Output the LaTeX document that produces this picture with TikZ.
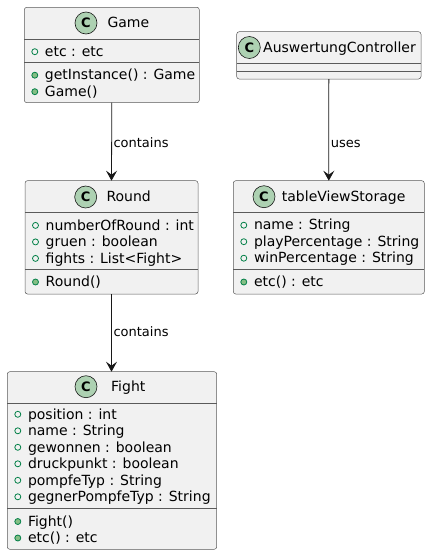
\documentclass[tikz,border=0pt]{standalone}
\usepackage{fontspec}
\setmainfont{DejaVu Sans}
\usetikzlibrary{arrows.meta}
\definecolor{boxfill}{HTML}{F1F1F1}
\definecolor{boxline}{HTML}{181818}
\definecolor{sepcol}{HTML}{5A5A5A}
\definecolor{circfill}{HTML}{ADD1B2}
\definecolor{visline}{HTML}{038048}
\definecolor{visfill}{HTML}{84BE84}
\tikzset{
 umlbox/.style={draw=sepcol, fill=boxfill, line width=0.5pt, rounded corners=2.5pt, inner sep=0pt, outer sep=0pt, anchor=north west},
 sepline/.style={draw=sepcol, line width=0.5pt},
 txt/.style={anchor=base west, inner sep=0pt, font=\fontsize{14}{16}\selectfont, text=black},
 lbl/.style={anchor=base west, inner sep=0pt, font=\fontsize{13}{15}\selectfont, text=black},
 cicon/.style={circle, draw=boxline, fill=circfill, line width=0.6pt, minimum size=22pt, inner sep=0pt, font=\bfseries\fontsize{13}{13}\selectfont},
 attricon/.style={circle, draw=visline, line width=0.8pt, minimum size=6pt, inner sep=0pt},
 methicon/.style={attricon, fill=visfill},
 arr/.style={draw=boxline, line width=0.8pt, -{Stealth[length=10pt,width=11pt,inset=4pt]}},
}
\newcommand\umlrow[5]{%
 \node[#1] (#2i) at (#3+10.5,#4) {};
 \node[txt] (#2t) at (#3+20.5,#4+4.7) {#5};}
\newcommand\umltitle[5]{%
 \node[cicon] (#1c) at (#2,#4) {C};
 \node[txt] (#1t) at (#3,#4+4.7) {#5};}
\begin{document}
\begin{tikzpicture}[x=1pt,y=-1pt]
\useasboundingbox (0,0) rectangle (430,555);
% Game
\node[umlbox, minimum width=175pt, minimum height=95.4pt] (game) at (24.3,7.3) {};
\draw[sepline] (game.west |- 0,39.3) -- (game.east |- 0,39.3);
\draw[sepline] (game.west |- 0,62.7) -- (game.east |- 0,62.7);
\umltitle{gam}{86}{107.3}{23}{Game}
\umlrow{attricon}{g1}{24.3}{51.7}{etc : etc}
\umlrow{methicon}{g2}{24.3}{75.2}{getInstance() : Game}
\umlrow{methicon}{g3}{24.3}{91.7}{Game()}
% AuswertungController
\node[umlbox, minimum width=184.3pt, minimum height=47.3pt] (ausw) at (236.7,31.7) {};
\draw[sepline] (ausw.west |- 0,63.3) -- (ausw.east |- 0,63.3);
\draw[sepline] (ausw.west |- 0,71) -- (ausw.east |- 0,71);
\umltitle{aus}{249.3}{263}{47.5}{AuswertungController}
% tableViewStorage
\node[umlbox, minimum width=191pt, minimum height=113.3pt] (tvs) at (233.3,180.7) {};
\draw[sepline] (tvs.west |- 0,212.5) -- (tvs.east |- 0,212.5);
\draw[sepline] (tvs.west |- 0,269) -- (tvs.east |- 0,269);
\umltitle{tab}{264}{281.7}{196.7}{tableViewStorage}
\umlrow{attricon}{t1}{233.3}{225.2}{name : String}
\umlrow{attricon}{t2}{233.3}{241.7}{playPercentage : String}
\umlrow{attricon}{t3}{233.3}{258.2}{winPercentage : String}
\umlrow{methicon}{t4}{233.3}{282}{etc() : etc}
% Round
\node[umlbox, minimum width=173pt, minimum height=113.3pt] (round) at (25,180.7) {};
\draw[sepline] (round.west |- 0,212.5) -- (round.east |- 0,212.5);
\draw[sepline] (round.west |- 0,269) -- (round.east |- 0,269);
\umltitle{rou}{85.7}{106.3}{197}{Round}
\umlrow{attricon}{r1}{25}{225.4}{numberOfRound : int}
\umlrow{attricon}{r2}{25}{241.9}{gruen : boolean}
\umlrow{attricon}{r3}{25}{258.4}{fights : List<Fight>}
\umlrow{methicon}{r4}{25}{282}{Round()}
% Fight
\node[umlbox, minimum width=209.4pt, minimum height=177.6pt] (fight) at (7.3,371.7) {};
\draw[sepline] (fight.west |- 0,403.3) -- (fight.east |- 0,403.3);
\draw[sepline] (fight.west |- 0,508.3) -- (fight.east |- 0,508.3);
\umltitle{fig}{86}{111}{386.7}{Fight}
\umlrow{attricon}{f1}{7.3}{414.3}{position : int}
\umlrow{attricon}{f2}{7.3}{430.8}{name : String}
\umlrow{attricon}{f3}{7.3}{447.3}{gewonnen : boolean}
\umlrow{attricon}{f4}{7.3}{463.8}{druckpunkt : boolean}
\umlrow{attricon}{f5}{7.3}{480.3}{pompfeTyp : String}
\umlrow{attricon}{f6}{7.3}{496.8}{gegnerPompfeTyp : String}
\umlrow{methicon}{f7}{7.3}{521.5}{Fight()}
\umlrow{methicon}{f8}{7.3}{538}{etc() : etc}
% connectors
\draw[arr] (game.south) -- (round.north);
\draw[arr] (round.south) -- (round.south |- fight.north);
\draw[arr] (ausw.south) -- (tvs.north);
\node[lbl] (l1) at (113.3,147.5) {contains};
\node[lbl] (l2) at (113.3,336.7) {contains};
\node[lbl] (l3) at (330.7,147.5) {uses};
\end{tikzpicture}
\end{document}
